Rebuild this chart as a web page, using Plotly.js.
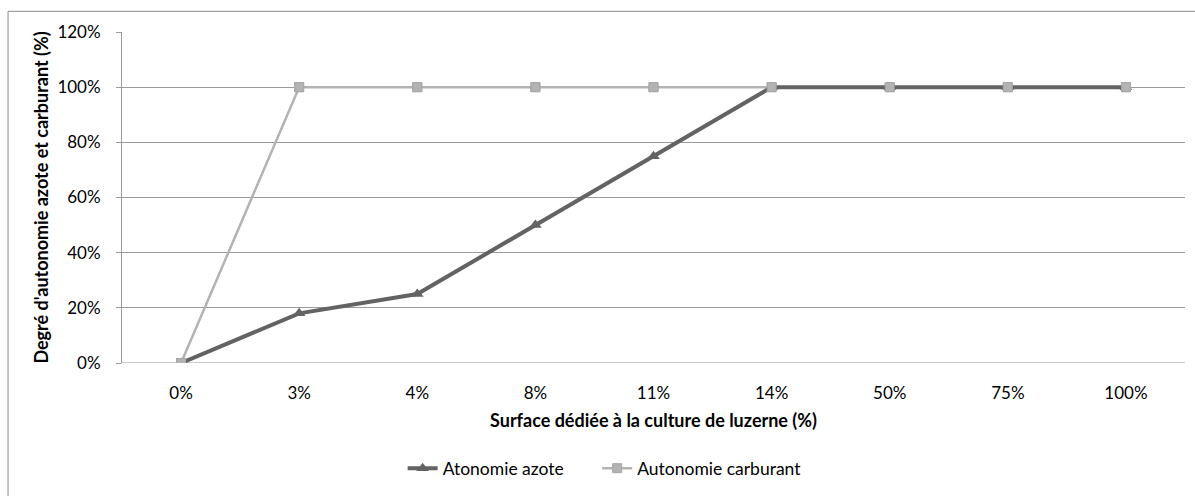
<!DOCTYPE html>
<html>
<head>
<meta charset="utf-8">
<script src="https://cdn.plot.ly/plotly-3.0.1.min.js"></script>
<style>html,body{margin:0;padding:0;background:#fff;}#chart{width:1195px;height:496px;}</style>
</head>
<body>
<div id="chart"></div>
<script>
const categories = ["0%", "3%", "4%", "8%", "11%", "14%", "50%", "75%", "100%"];
const azote = [0, 18, 25, 50, 75, 100, 100, 100, 100];
const carburant = [0, 100, 100, 100, 100, 100, 100, 100, 100];
const yTickVals = [0, 20, 40, 60, 80, 100, 120];
const yTickText = ["0%", "20%", "40%", "60%", "80%", "100%", "120%"];

const font = "Lato, 'Open Sans', sans-serif";
const dark = "#636363";
const light = "#b3b3b3";

const traces = [
  {
    x: categories, y: carburant, name: "Autonomie carburant", type: "scatter",
    mode: "lines+markers", legend: "legend2", legendgroup: "c",
    line: {color: light, width: 2.5},
    marker: {symbol: "square", size: 9, color: light, line: {color: "#a6a6a6", width: 1}},
    hoverinfo: "skip"
  },
  {
    x: categories, y: azote, name: "Atonomie azote", type: "scatter",
    mode: "lines+markers", legend: "legend",
    line: {color: dark, width: 4},
    marker: {symbol: "triangle-up", size: 11, color: dark},
    hoverinfo: "skip"
  },
  {
    x: categories, y: carburant, name: "Autonomie carburant", type: "scatter",
    mode: "markers", showlegend: false, legendgroup: "c", legend: "legend2",
    marker: {symbol: "square", size: 9, color: light, line: {color: "#a6a6a6", width: 1}},
    hoverinfo: "skip"
  }
];

const legendFont = {family: font, size: 17.5, color: "#000"};

const layout = {
  width: 1195, height: 496,
  margin: {l: 122, r: 10, t: 32, b: 128},
  paper_bgcolor: "#ffffff", plot_bgcolor: "#ffffff",
  font: {family: font, size: 17, color: "#000"},
  showlegend: true,
  legend: {orientation: "h", x: 0.264, xanchor: "left", y: -0.318, yanchor: "middle", font: legendFont},
  legend2: {orientation: "h", x: 0.447, xanchor: "left", y: -0.318, yanchor: "middle", font: legendFont},
  xaxis: {
    type: "category", categoryorder: "array", categoryarray: categories,
    showgrid: false, zeroline: false, showline: false, ticks: "",
    tickfont: {family: font, size: 17}, ticklabelstandoff: 18,
    title: {text: "Surface dédiée à la culture de luzerne (%)", font: {family: font, size: 18, weight: "bold"}, standoff: 12},
    range: [-0.5, 8.5], fixedrange: true
  },
  yaxis: {
    range: [0, 120], tickvals: yTickVals, ticktext: yTickText,
    showgrid: true, gridcolor: "#9a9a9a", gridwidth: 1,
    zeroline: false, showline: true, linecolor: "#9a9a9a", linewidth: 1,
    ticks: "outside", ticklen: 5, tickcolor: "#9a9a9a",
    tickfont: {family: font, size: 17}, ticklabelstandoff: 12,
    title: {text: "Degré d'autonomie azote et carburant (%)", font: {family: font, size: 18, weight: "bold"}, standoff: 4},
    fixedrange: true
  },
  shapes: [
    {type: "rect", xref: "paper", yref: "paper", x0: -0.1072, x1: 1.02, y0: -0.5, y1: 1.0625,
     line: {color: "#8a8a8a", width: 1}, fillcolor: "rgba(0,0,0,0)", layer: "below"},
    {type: "line", xref: "paper", yref: "y", x0: 0, x1: 1, y0: 0, y1: 0,
     line: {color: "#9a9a9a", width: 1}, layer: "below"}
  ]
};

Plotly.newPlot("chart", traces, layout, {displayModeBar: false, staticPlot: true});
</script>
</body>
</html>
